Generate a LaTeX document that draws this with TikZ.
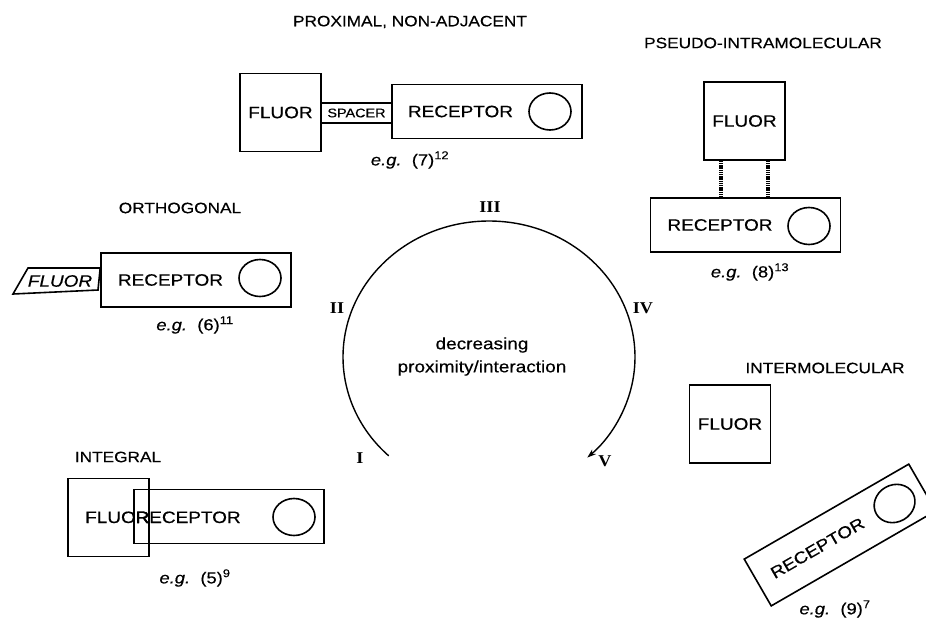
\documentclass[tikz,border=0pt]{standalone}
\usepackage{fontspec}
\setmainfont[FakeStretch=1.15,FakeBold=0.4]{Liberation Sans}
\newfontfamily\romfont[FakeStretch=1.1]{Liberation Serif}
\usetikzlibrary{arrows.meta,shapes.geometric}
\begin{document}
\begin{tikzpicture}[x=1pt,y=-1pt,
  lw/.style={line width=1.6pt},
  title/.style={font=\fontsize{15}{18}\selectfont, inner sep=0},
  lbl/.style={font=\fontsize{16.5}{20}\selectfont, inner sep=0},
  fluorbox/.style={draw, lw, minimum width=81pt, minimum height=78pt, inner sep=0, font=\fontsize{16.5}{20}\selectfont},
  recbox/.style={draw, lw, minimum width=190pt, minimum height=54pt, inner sep=0},
  ring/.style={draw, lw, ellipse, minimum width=42pt, minimum height=37pt, inner sep=0},
  eg/.style={font=\fontsize{16}{19}\selectfont, inner sep=0},
  rom/.style={font=\romfont\bfseries\fontsize{16.5}{19}\selectfont, inner sep=0},
  link/.style={line width=3.5pt, dash pattern=on 1.3pt off 0.9pt},
  spacerbox/.style={draw, lw, minimum width=71pt, minimum height=20pt, inner sep=0, font=\fontsize{12.5}{14}\selectfont}
]
\useasboundingbox (0,0) rectangle (926,621);

% ---------- proximal, non-adjacent ----------
\node[title] (tprox) at (410,22) {PROXIMAL, NON-ADJACENT};
\node[fluorbox] (f7) at (280.5,112.5) {FLUOR};
\node[spacerbox] (sp7) at (356.5,113) {SPACER};
\node[recbox] (r7) at (487,111.5) {};
\node[lbl] (r7t) at (460.5,111.5) {RECEPTOR};
\node[ring] (c7) at (550,111.5) {};
\node[eg] (e7) at (410,160) {\textit{e.g.}\ \ (7)\textsuperscript{12}};

% ---------- pseudo-intramolecular ----------
\node[title] (tpseudo) at (763,43) {PSEUDO-INTRAMOLECULAR};
\node[fluorbox] (f8) at (744.5,121) {FLUOR};
\node[recbox] (r8) at (745.5,225) {};
\node[lbl] (r8t) at (720,225) {RECEPTOR};
\node[ring] (c8) at (809,226) {};
\node[eg] (e8) at (750,272) {\textit{e.g.}\ \ (8)\textsuperscript{13}};
\coordinate (xa) at (721,0);
\coordinate (xb) at (768,0);
\draw[link] (f8.south -| xa) -- (r8.north -| xa);
\draw[link] (f8.south -| xb) -- (r8.north -| xb);

% ---------- orthogonal ----------
\node[title] (torth) at (180,208) {ORTHOGONAL};
\node[recbox] (r6) at (196,280) {};
\node[lbl] (r6t) at (170.5,280) {RECEPTOR};
\node[ring] (c6) at (260,278) {};
\draw[lw] (13,294) coordinate (pa) -- (28,268) coordinate (pb) -- (r6.west |- pb) coordinate (pc) -- (98,290) coordinate (pd) -- cycle;
\node[lbl, font=\fontsize{16.5}{20}\selectfont\itshape] (f6) at (60,281) {FLUOR};
\node[eg] (e6) at (195,325) {\textit{e.g.}\ \ (6)\textsuperscript{11}};

% ---------- integral ----------
\node[title] (tint) at (118,457) {INTEGRAL};
\node[fluorbox] (f5) at (108.5,517.5) {};
\node[recbox] (r5) at (229,516.5) {};
\node[lbl, anchor=base west] (f5t) at (85,523) {FLUOR};
\node[lbl, anchor=base west] (r5t) at (135.4,523) {RECEPTOR};
\node[ring] (c5) at (294,517) {};
\node[eg] (e5) at (195,578) {\textit{e.g.}\ \ (5)\textsuperscript{9}};

% ---------- intermolecular ----------
\node[title] (tinter) at (825,368) {INTERMOLECULAR};
\node[fluorbox] (f9) at (730,424) {FLUOR};
\begin{scope}[shift={(840,535)}, rotate=30, transform shape]
  \node[recbox] (r9) at (0,0) {};
  \node[lbl] (r9t) at (-26,0) {RECEPTOR};
  \node[ring] (c9) at (63,0) {};
\end{scope}
\node[eg] (e9) at (835,609) {\textit{e.g.}\ \ (9)\textsuperscript{7}};

% ---------- central arc ----------
\coordinate (ac) at (489,357);
\draw[line width=1.4pt, -{Stealth[length=9pt,width=6pt]}] (ac) ++(133.4:146 and 136) coordinate (arcI)
  arc[start angle=133.4, end angle=407.7, x radius=146, y radius=136] coordinate (arcV);
\node[rom] (nIII) at (490,207) {III};
\node[rom] (nII) at (337,308) {II};
\node[rom] (nIV) at (643,308) {IV};
\node[rom] (nI) at (360,458) {I};
\node[rom] (nV) at (605,461) {V};
\node[lbl] (dec1) at (482,345) {decreasing};
\node[lbl] (dec2) at (482,368) {proximity/interaction};
\end{tikzpicture}
\end{document}
